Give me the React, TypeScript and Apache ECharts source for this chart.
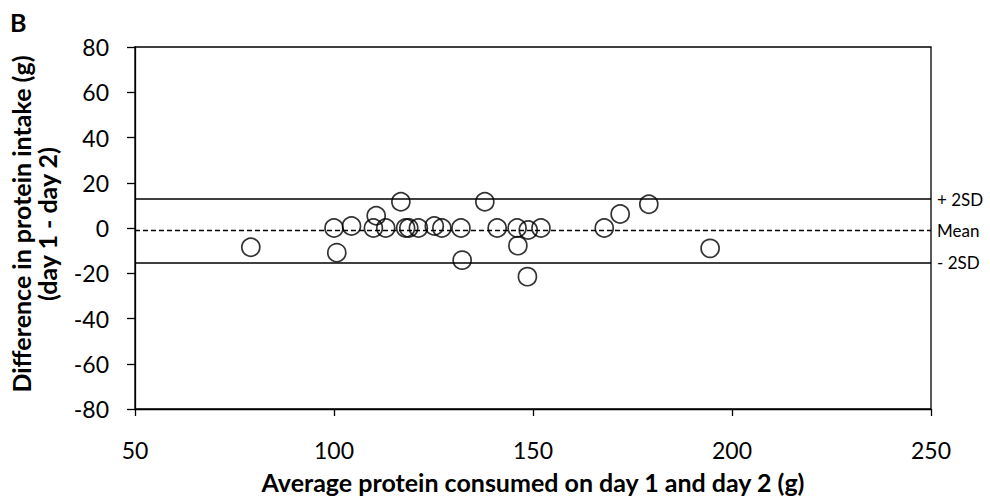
import React, { useEffect, useRef } from "react";
import * as echarts from "echarts";

const avgProtein = [79.1, 100.0, 100.7, 104.4, 109.9, 110.6, 113.0, 116.8, 118.0, 118.8, 121.2, 125.2, 127.1, 131.9, 132.2, 137.9, 141.0, 146.0, 146.2, 148.6, 148.8, 152.0, 167.9, 171.9, 179.1, 194.5];
const diffProtein = [-8.5, 0, -10.9, 0.9, 0, 5.4, 0, 11.6, 0, 0, 0, 0.9, 0, 0, -14.2, 11.6, 0, 0, -7.8, -21.5, -0.9, 0, 0, 6.2, 10.5, -9.0];

const upperSD = 12.8;
const meanDiff = -1.2;
const lowerSD = -15.2;
const refLabels = ["+ 2SD", "Mean", "- 2SD"];

const xTitle = "Average protein consumed on day 1 and day 2 (g)";
const yTitle1 = "Difference in protein intake (g)";
const yTitle2 = "(day 1 - day 2)";
const panelLabel = "B";

const FONT = "Lato";

export default function App() {
  const ref = useRef<HTMLDivElement>(null);
  useEffect(() => {
    if (!ref.current) return;
    const chart = echarts.init(ref.current, null, { renderer: "svg" });
    const pts = avgProtein.map((x, i) => [x, diffProtein[i]]);
    const refVals = [upperSD, meanDiff, lowerSD];
    const titleStyle = (text: string) => ({
      text,
      font: `bold 25px ${FONT}`,
      fill: "#000",
      align: "center",
      verticalAlign: "middle",
      textAlign: "center",
      textVerticalAlign: "middle",
    });
    chart.setOption({
      animation: false,
      backgroundColor: "#fff",
      grid: {
        left: 135,
        right: 59,
        top: 47,
        bottom: 90,
        show: true,
        borderColor: "#000",
        borderWidth: 1.3,
        backgroundColor: "transparent",
      },
      xAxis: {
        type: "value",
        min: 50,
        max: 250,
        interval: 50,
        axisLine: { show: true, onZero: false, lineStyle: { color: "#000", width: 1.3 } },
        axisTick: { show: true, inside: false, length: 7, lineStyle: { color: "#000", width: 1.3 } },
        axisLabel: { color: "#000", fontFamily: FONT, fontSize: 23, margin: 29 },
        splitLine: { show: false },
      },
      yAxis: {
        type: "value",
        min: -80,
        max: 80,
        interval: 20,
        axisLine: { show: true, onZero: false, lineStyle: { color: "#000", width: 1.3 } },
        axisTick: { show: true, inside: false, length: 8, lineStyle: { color: "#000", width: 1.3 } },
        axisLabel: { color: "#000", fontFamily: FONT, fontSize: 23, margin: 26 },
        splitLine: { show: false },
      },
      graphic: [
        {
          type: "text",
          left: 10,
          top: 9,
          style: { text: panelLabel, font: `bold 25px ${FONT}`, fill: "#000" },
        },
        { type: "text", x: 21, y: 224, rotation: Math.PI / 2, style: titleStyle(yTitle1) },
        { type: "text", x: 47, y: 224, rotation: Math.PI / 2, style: titleStyle(yTitle2) },
        { type: "text", x: 533, y: 482, style: titleStyle(xTitle) },
      ],
      series: [
        {
          type: "scatter",
          data: pts,
          symbol: "circle",
          symbolSize: 18,
          itemStyle: { color: "rgba(255,255,255,0)", borderColor: "#000", borderWidth: 1.7 },
          emphasis: { disabled: true },
          markLine: {
            silent: true,
            symbol: "none",
            animation: false,
            data: refVals.map((v, i) => ({
              yAxis: v,
              lineStyle: { color: "#000", width: i === 1 ? 1.4 : 1.6, type: i === 1 ? [5, 3] : "solid" },
              label: {
                show: true,
                position: "end",
                distance: 6,
                formatter: refLabels[i],
                color: "#000",
                fontFamily: FONT,
                fontSize: 17,
              },
            })),
          },
        },
      ],
    });
    return () => chart.dispose();
  }, []);
  return <div ref={ref} style={{ width: 990, height: 499, position: "absolute", left: 0, top: 0 }} />;
}
